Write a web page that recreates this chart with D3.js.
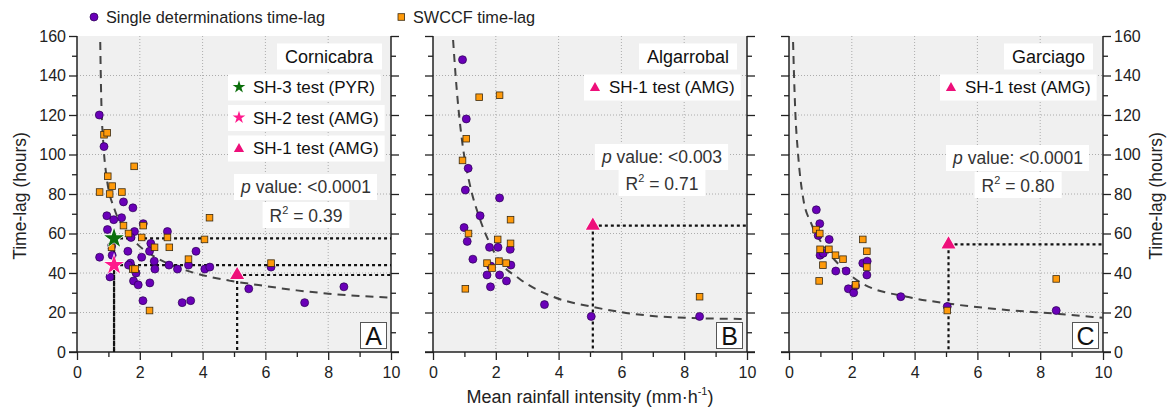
<!DOCTYPE html>
<html>
<head>
  <meta charset="utf-8">
  <title>Time-lag vs mean rainfall intensity</title>
  <style>
    body { margin: 0; background: #fff; }
    svg { font-family: "Liberation Sans", Arial, sans-serif; }
    .tick text { font-size: 16px; fill: #222; }
    .tick line { stroke: #222; }
  </style>
</head>
<body>
  <svg id="chart" width="1173" height="411"></svg>

  <script src="https://d3js.org/d3.v7.min.js"></script>
  <script>
    // ticks
    const xTicks = [0, 2, 4, 6, 8, 10];
    const yTicks = [0, 20, 40, 60, 80, 100, 120, 140, 160];

    // Cornicabra  [intensity, time-lag]
    const cornicabraSingle = [
      [0.71, 120], [0.86, 104], [0.72, 48], [0.95, 69], [1.17, 67], [0.97, 62],
      [1.48, 76], [1.42, 68], [1.78, 73], [1.83, 61], [1.72, 58], [2.11, 65],
      [1.12, 49], [1.1, 53.5], [1.62, 51], [1.7, 45], [1.64, 44], [1.8, 36],
      [1.88, 40], [1.95, 34], [2.06, 48], [2.1, 26], [2.32, 35], [2.31, 51],
      [2.35, 55], [2.46, 46], [2.48, 42], [2.88, 61], [2.93, 44], [3.2, 42],
      [3.35, 25], [3.62, 26], [3.55, 44], [3.79, 51], [4.07, 42], [4.23, 43],
      [5.47, 32], [6.18, 43], [7.25, 25], [8.5, 33], [1.05, 38]
    ];
    const cornicabraSwccf = [
      [0.86, 110], [0.96, 111], [0.98, 89], [1.82, 94], [0.72, 81], [1.04, 80],
      [1.12, 84], [1.43, 81], [1.48, 64], [1.64, 60], [2.11, 64], [2.06, 58],
      [2.47, 53], [2.88, 58], [2.94, 53], [3.55, 47], [4.06, 57], [4.22, 68],
      [6.18, 45], [1.78, 42], [1.85, 42], [2.31, 21], [1.1, 53]
    ];
    const cornicabraFit = [
      [0.74, 157], [0.77, 130], [0.85, 103], [0.93, 90], [1.2, 72], [1.5, 63],
      [1.93, 54.5], [2.5, 48], [3.5, 41.2], [4.25, 38], [5.1, 35.5], [6, 33.4],
      [7, 31.2], [8.2, 29.3], [10, 27.5]
    ];
    const cornicabraTests = [
      { label: "SH-3 test (PYR)", shape: "star", color: "#0b6e0b", x: 1.18, y: 57.5 },
      { label: "SH-2 test (AMG)", shape: "star", color: "#ff1a8c", x: 1.18, y: 44 },
      { label: "SH-1 test (AMG)", shape: "triangle", color: "#ee0f7a", x: 5.1, y: 39 }
    ];

    // Algarrobal
    const algarrobalSingle = [
      [0.94, 148], [1.06, 118], [1.12, 93], [1.03, 82], [2.12, 78], [1.5, 69],
      [0.99, 63], [1.09, 56], [1.8, 53], [2.07, 53], [2.46, 52], [1.27, 47],
      [2.48, 44], [1.84, 43.5], [1.72, 39], [2.12, 39], [2.34, 36], [1.83, 33],
      [3.55, 24], [5.04, 18], [8.49, 18]
    ];
    const algarrobalSwccf = [
      [1.47, 129], [2.12, 130], [1.06, 108], [0.94, 97], [1.13, 60], [2.06, 57],
      [2.47, 67], [2.47, 55], [1.72, 45], [2.1, 46], [1.88, 42.5], [2.33, 45],
      [1.03, 32], [8.49, 28]
    ];
    const algarrobalFit = [
      [0.64, 158], [0.72, 140], [0.8, 125], [0.95, 104], [1.17, 85], [1.48, 68],
      [1.75, 57], [2.12, 46], [2.76, 37], [3.82, 28], [5.04, 23], [6.15, 19.8],
      [7.6, 17.6], [10, 16.7]
    ];
    const algarrobalTests = [
      { label: "SH-1 test (AMG)", shape: "triangle", color: "#ee0f7a", x: 5.09, y: 64 }
    ];

    // Garciago
    const garciagoSingle = [
      [0.87, 72], [0.98, 65], [0.93, 59], [0.99, 49], [1.09, 50], [1.28, 57],
      [1.49, 41], [1.82, 41], [1.89, 32], [2.06, 30], [2.12, 33.5], [2.35, 45],
      [2.49, 46], [2.48, 39], [3.56, 28], [5.04, 23], [8.51, 21]
    ];
    const garciagoSwccf = [
      [0.86, 62], [0.98, 60], [0.99, 52], [1.08, 44], [0.96, 36], [1.27, 52],
      [1.48, 49], [1.72, 47], [2.12, 34], [2.35, 57], [2.48, 51], [2.48, 43],
      [5.04, 21], [8.51, 37]
    ];
    const garciagoFit = [
      [0.13, 157], [0.16, 140], [0.2, 122], [0.29, 100], [0.45, 78], [0.71, 65],
      [1.14, 53], [1.67, 43], [2.3, 35], [3.8, 27.8], [5.04, 24.6], [7, 21.2],
      [8.6, 19.3], [10, 17.3]
    ];
    const garciagoTests = [
      { label: "SH-1 test (AMG)", shape: "triangle", color: "#ee0f7a", x: 5.08, y: 54.5 }
    ];

    const panels = [
      { name: "Cornicabra", letter: "A", p: "<0.0001", r2: "0.39", x0: 77,
        single: cornicabraSingle, swccf: cornicabraSwccf, fit: cornicabraFit, tests: cornicabraTests,
        pY: 193, r2Y: 222 },
      { name: "Algarrobal", letter: "B", p: "<0.003", r2: "0.71", x0: 433,
        single: algarrobalSingle, swccf: algarrobalSwccf, fit: algarrobalFit, tests: algarrobalTests,
        pY: 163, r2Y: 190 },
      { name: "Garciago", letter: "C", p: "<0.0001", r2: "0.80", x0: 789,
        single: garciagoSingle, swccf: garciagoSwccf, fit: garciagoFit, tests: garciagoTests,
        pY: 164, r2Y: 192 }
    ];

    const svg = d3.select("#chart");
    const pw = 314, plotTop = 36, plotBottom = 352;
    const y = d3.scaleLinear().domain([0, 160]).range([plotBottom, plotTop]);

    const purple = "#6a00b8", orange = "#ff9a0a";

    function whiteBox(g, node, padX, h, extraLeft) {
      const b = node.getBBox();
      const cy = b.y + b.height / 2;
      g.insert("rect", () => node)
        .attr("x", b.x - padX - (extraLeft || 0))
        .attr("y", cy - h / 2)
        .attr("width", b.width + 2 * padX + (extraLeft || 0))
        .attr("height", h)
        .attr("fill", "#fff");
    }

    function marker(g, shape, color, cx, cy, size, halo) {
      const sym = shape === "star" ? d3.symbolStar : d3.symbolTriangle;
      const p = g.append("path")
        .attr("d", d3.symbol().type(sym).size(size)())
        .attr("transform", `translate(${cx},${cy})`)
        .attr("fill", color);
      if (halo) p.attr("stroke", "#fff").attr("stroke-width", 1.2).attr("paint-order", "stroke");
    }

    panels.forEach((pan, i) => {
      const x = d3.scaleLinear().domain([0, 10]).range([pan.x0, pan.x0 + pw]);
      const g = svg.append("g");

      g.append("rect")
        .attr("x", pan.x0).attr("y", plotTop)
        .attr("width", pw).attr("height", plotBottom - plotTop)
        .attr("fill", "#f0f0f0");

      // grid
      g.selectAll(".gx").data(xTicks.slice(1, -1)).join("line")
        .attr("x1", d => x(d)).attr("x2", d => x(d))
        .attr("y1", plotTop).attr("y2", plotBottom)
        .attr("stroke", "#9a9a9a").attr("stroke-width", 0.8).attr("stroke-dasharray", "1,2");
      g.selectAll(".gy").data(yTicks.slice(1, -1)).join("line")
        .attr("x1", pan.x0).attr("x2", pan.x0 + pw)
        .attr("y1", d => y(d)).attr("y2", d => y(d))
        .attr("stroke", "#9a9a9a").attr("stroke-width", 0.8).attr("stroke-dasharray", "1,2");

      // axes
      const minorY = d3.range(10, 160, 20);
      const minorX = d3.range(1, 10, 2);
      g.append("g").attr("transform", `translate(${pan.x0},0)`)
        .call(d3.axisLeft(y).tickValues(yTicks).tickSize(8).tickPadding(3)
          .tickFormat(i === 0 ? d3.format("d") : ""));
      g.append("g").attr("transform", `translate(${pan.x0},0)`)
        .call(d3.axisLeft(y).tickValues(minorY).tickSize(5).tickFormat(""));
      g.append("g").attr("transform", `translate(${pan.x0 + pw},0)`)
        .call(d3.axisRight(y).tickValues(yTicks).tickSize(8).tickPadding(3)
          .tickFormat(i === 2 ? d3.format("d") : ""));
      g.append("g").attr("transform", `translate(${pan.x0 + pw},0)`)
        .call(d3.axisRight(y).tickValues(minorY).tickSize(5).tickFormat(""));
      g.append("g").attr("transform", `translate(0,${plotBottom})`)
        .call(d3.axisBottom(x).tickValues(xTicks).tickSize(8).tickPadding(7).tickFormat(d3.format("d")));
      g.append("g").attr("transform", `translate(0,${plotBottom})`)
        .call(d3.axisBottom(x).tickValues(minorX).tickSize(5).tickFormat(""));
      g.selectAll(".domain").remove();
      g.selectAll(".tick line").attr("stroke-width", 1.3);

      // frame
      g.append("line").attr("x1", pan.x0).attr("x2", pan.x0).attr("y1", plotTop).attr("y2", plotBottom)
        .attr("stroke", "#222").attr("stroke-width", 1.5);
      g.append("line").attr("x1", pan.x0 + pw).attr("x2", pan.x0 + pw).attr("y1", plotTop).attr("y2", plotBottom)
        .attr("stroke", "#222").attr("stroke-width", 1.5);
      g.append("line").attr("x1", pan.x0 - 8).attr("x2", pan.x0 + pw + 8).attr("y1", plotBottom).attr("y2", plotBottom)
        .attr("stroke", "#222").attr("stroke-width", 1.5);

      // fit curve
      g.append("path")
        .datum(pan.fit)
        .attr("d", d3.line().x(d => x(d[0])).y(d => y(d[1])).curve(d3.curveMonotoneX))
        .attr("fill", "none")
        .attr("stroke", "#444")
        .attr("stroke-width", 2)
        .attr("stroke-dasharray", "8,6");

      // reference dotted lines for tests
      pan.tests.forEach(t => {
        g.append("line")
          .attr("x1", x(t.x)).attr("x2", x(10))
          .attr("y1", y(t.y)).attr("y2", y(t.y))
          .attr("stroke", "#111").attr("stroke-width", 2.2).attr("stroke-dasharray", "3,3");
        g.append("line")
          .attr("x1", x(t.x)).attr("x2", x(t.x))
          .attr("y1", y(t.y)).attr("y2", plotBottom)
          .attr("stroke", "#111").attr("stroke-width", 2.2).attr("stroke-dasharray", "3,3");
      });

      // points
      g.selectAll(".pt").data(pan.single).join("circle")
        .attr("cx", d => x(d[0])).attr("cy", d => y(d[1])).attr("r", 4)
        .attr("fill", purple).attr("stroke", "#2a0050").attr("stroke-width", 0.7);
      g.selectAll(".sq").data(pan.swccf).join("rect")
        .attr("x", d => x(d[0]) - 3.3).attr("y", d => y(d[1]) - 3.3)
        .attr("width", 6.6).attr("height", 6.6)
        .attr("fill", orange).attr("stroke", "#3a2a10").attr("stroke-width", 0.8);

      pan.tests.forEach(t => {
        marker(g, t.shape, t.color, x(t.x), y(t.y), t.shape === "star" ? 120 : 85, true);
      });

      // site name
      const title = g.append("text")
        .attr("x", pan.x0 + 296).attr("y", 62.5)
        .attr("text-anchor", "end")
        .attr("font-size", 18).attr("fill", "#111")
        .text(pan.name);
      whiteBox(g, title.node(), 8, 26);

      // test legend boxes
      pan.tests.forEach((t, k) => {
        const cy = 87 + k * 30.5;
        const tx = g.append("text")
          .attr("x", pan.x0 + 176).attr("y", cy + 6)
          .attr("font-size", 17).attr("fill", "#111")
          .text(t.label);
        whiteBox(g, tx.node(), 6, 26, 19);
        marker(g, t.shape, t.color, pan.x0 + 162, cy + (t.shape === "star" ? 0 : 1), t.shape === "star" ? 50 : 45, false);
      });

      // stats
      const pt = g.append("text")
        .attr("x", pan.x0 + 229).attr("y", pan.pY)
        .attr("text-anchor", "middle")
        .attr("font-size", 17.5).attr("fill", "#333");
      pt.append("tspan").attr("font-style", "italic").text("p");
      pt.append("tspan").text(" value: " + pan.p);
      whiteBox(g, pt.node(), 6, 26);

      const rt = g.append("text")
        .attr("x", pan.x0 + 229).attr("y", pan.r2Y)
        .attr("text-anchor", "middle")
        .attr("font-size", 17.5).attr("fill", "#333");
      rt.append("tspan").text("R");
      rt.append("tspan").attr("font-size", 11).attr("dy", -8).text("2");
      rt.append("tspan").attr("dy", 8).text(" = " + pan.r2);
      whiteBox(g, rt.node(), 7, 26);

      // panel letter
      g.append("rect")
        .attr("x", pan.x0 + 283.5).attr("y", 322.5)
        .attr("width", 26).attr("height", 26)
        .attr("fill", "#fff").attr("stroke", "#555").attr("stroke-width", 1);
      g.append("text")
        .attr("x", pan.x0 + 296.5).attr("y", 345)
        .attr("text-anchor", "middle")
        .attr("font-size", 25).attr("fill", "#111")
        .text(pan.letter);
    });

    // axis titles
    svg.append("text")
      .attr("transform", "translate(26,196) rotate(-90)")
      .attr("text-anchor", "middle")
      .attr("font-size", 17.5).attr("fill", "#222")
      .text("Time-lag (hours)");
    svg.append("text")
      .attr("transform", "translate(1162,196) rotate(-90)")
      .attr("text-anchor", "middle")
      .attr("font-size", 17.5).attr("fill", "#222")
      .text("Time-lag (hours)");

    const xt = svg.append("text")
      .attr("x", 590).attr("y", 403)
      .attr("text-anchor", "middle")
      .attr("font-size", 18).attr("fill", "#222");
    xt.append("tspan").text("Mean rainfall intensity (mm·h");
    xt.append("tspan").attr("font-size", 11).attr("dy", -8).text("-1");
    xt.append("tspan").attr("dy", 8).text(")");

    // top legend
    svg.append("circle").attr("cx", 94).attr("cy", 17).attr("r", 4)
      .attr("fill", purple).attr("stroke", "#2a0050").attr("stroke-width", 0.7);
    svg.append("text").attr("x", 106).attr("y", 23)
      .attr("font-size", 16.3).attr("fill", "#222")
      .text("Single determinations time-lag");
    svg.append("rect").attr("x", 398).attr("y", 13.7).attr("width", 6.6).attr("height", 6.6)
      .attr("fill", orange).attr("stroke", "#3a2a10").attr("stroke-width", 0.8);
    svg.append("text").attr("x", 413).attr("y", 23)
      .attr("font-size", 16.3).attr("fill", "#222")
      .text("SWCCF time-lag");
  </script>
</body>
</html>
